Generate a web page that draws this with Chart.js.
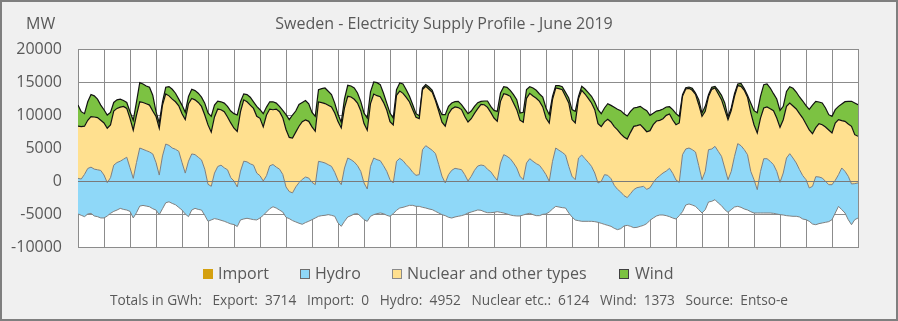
<!DOCTYPE html>
<html><head><meta charset="utf-8">
<script src="https://cdn.jsdelivr.net/npm/chart.js@4.4.1/dist/chart.umd.min.js"></script>
<style>
html,body{margin:0;padding:0;background:#f0f0f0;}
#wrap{position:relative;width:898px;height:321px;background:#f0f0f0;overflow:hidden;font-family:'Open Sans',sans-serif;color:#595959;}
#c{position:absolute;left:0;top:0;}
#frame{position:absolute;left:0;top:0;width:898px;height:321px;box-sizing:border-box;border:2px solid #7f7f7f;pointer-events:none;}
.t{position:absolute;white-space:pre;line-height:1;}
.box{position:absolute;width:10px;height:10px;box-sizing:border-box;}
</style>
</head><body>
<div id="wrap">
<canvas id="c" width="898" height="321"></canvas>
<div class="t" style="left:26px;top:15px;font-size:16px;">MW</div>
<div class="t" style="left:0;width:888px;text-align:center;top:14.5px;font-size:16px;">Sweden - Electricity Supply Profile - June 2019</div>
<div id="legend"></div>
<div id="footer" class="t" style="left:0;width:898px;text-align:center;top:292.8px;font-size:13.7px;"></div>
<div id="frame"></div>
</div>
<script>
// Category axis: June 2019, one sample every 3 hours (hour of month), last = 1 July 00:00
const sampleHours = [];
for (let i = 0; i <= 240; i++) sampleHours.push(i * 3);
const dayTicks = [0, 720, 24]; // min, max, step (one grid line per day)
const yTicks = [-10000, 20000, 5000];

// Series values in MW (export drawn as negative, the production stack starts from it)
const exportMW = [
-5000,-5200,-5400,-5000,-4900,-5300,-5400,-5600,
-5600,-5300,-4900,-4600,-4400,-4150,-4300,-4400,
-4600,-5600,-4800,-3800,-3700,-3800,-3900,-4200,
-4400,-5100,-4200,-3300,-3150,-3400,-3600,-4000,
-4400,-5000,-5400,-4400,-4150,-4300,-4400,-5200,
-6100,-5900,-5700,-5800,-5950,-6100,-6300,-6500,
-6600,-6900,-5900,-5750,-5650,-5750,-5850,-5900,
-5600,-5200,-4700,-4200,-3900,-4100,-4400,-4700,
-5500,-5700,-6000,-6200,-6400,-6560,-6300,-6100,
-5860,-5610,-5350,-5250,-5200,-5100,-5200,-5350,
-6360,-6870,-6110,-5450,-5250,-5000,-4950,-5350,
-5860,-6110,-5350,-5100,-4950,-4850,-4950,-5200,
-5350,-4950,-4440,-4090,-3990,-3840,-3690,-3690,
-3840,-3840,-3990,-4090,-4240,-4340,-4600,-4850,
-5100,-5250,-5500,-5610,-5450,-5350,-5250,-5100,
-4850,-4700,-4550,-4390,-4440,-4650,-4800,-4800,
-4750,-4650,-4750,-4850,-5000,-5150,-5250,-5300,
-5300,-5150,-5000,-4900,-5100,-5250,-5250,-5050,
-5000,-4700,-4240,-3840,-3940,-4040,-4090,-4850,
-5450,-5910,-6010,-6110,-6110,-6110,-6110,-6160,
-6260,-6410,-6570,-6720,-6870,-7170,-7370,-7220,
-6820,-6720,-6870,-7070,-7020,-6870,-6720,-6460,
-5960,-5610,-5300,-5150,-5150,-5250,-5400,-5610,
-5760,-5250,-4650,-3640,-3480,-3640,-3840,-4340,
-4850,-4340,-3180,-3080,-2830,-3330,-3740,-4340,
-4750,-4340,-3940,-3840,-3990,-4240,-4390,-4650,
-4850,-4850,-4850,-4850,-4850,-4850,-4900,-5000,
-5100,-5150,-5250,-5300,-5350,-5350,-5450,-5760,
-5860,-6110,-6520,-6620,-6460,-6360,-6260,-6160,
-5860,-4850,-3840,-4340,-4850,-5860,-6620,-5860,
-5610];

const importMW = new Array(241).fill(0); // no import during the month (total 0 GWh)

const hydroMW = [
5400,5500,6400,6900,7000,7100,7100,7200,
6500,5050,5400,7000,7200,7150,7600,8000,
6600,6000,7600,8800,8500,8400,8300,8300,
7200,6000,8000,8900,8550,8400,8400,8500,
7200,6200,8400,8500,8150,7900,7600,7000,
5600,5100,6900,8000,8350,8100,8000,7000,
6600,6000,7400,8750,8550,8350,8250,7100,
6400,5200,5500,6500,6400,6200,6200,5700,
4600,4100,4200,5300,6150,6810,6900,6550,
5660,5050,8330,8130,7930,7570,7420,6660,
6460,6310,8080,8930,8480,7880,7270,6810,
5560,4900,7570,8580,8180,7930,7270,6660,
5550,4650,7420,7520,7070,6310,5660,5000,
4700,4800,8740,9440,9240,8990,8740,7320,
5810,4950,6460,7230,7370,7170,6970,6060,
4850,5410,6170,6660,6860,6970,6570,6210,
5460,4750,7480,8840,8740,8530,7980,7270,
6010,5350,7730,8280,8080,7880,7620,6770,
5960,4650,7220,8840,8590,8380,8030,7070,
6160,6110,9490,10050,9490,8940,8330,7370,
5960,6360,7530,7580,7220,6510,6110,5550,
4600,4200,4950,5760,6010,5960,5910,5200,
4950,5360,5700,5960,6360,6760,7320,6770,
5910,5050,8640,8490,8480,8390,8230,6660,
5050,5800,7930,7930,8080,7820,7480,6310,
4950,5800,7680,9500,9340,8990,8380,6110,
5050,3540,6310,8230,8230,7830,7370,6460,
4900,6360,8730,9440,8830,8080,7170,6570,
6060,5050,5710,7280,7070,6810,6210,5600,
5300,4950,4800,6310,6310,6570,6170,5460,
5310];

const nuclearMW = [
7900,7950,7300,7300,7650,7900,7900,7600,
7900,8250,8000,8200,8200,8200,8000,7400,
7500,7300,7200,7000,7100,7100,7100,6500,
7000,7100,7700,7600,7500,7400,7200,6900,
7400,8100,8700,8400,8300,8300,8100,8200,
9000,8200,8500,8700,8400,8500,8000,8300,
8000,8400,9000,9300,9100,8900,8600,8600,
8700,8200,9200,8600,8300,8800,8700,8600,
8700,8200,8300,8300,8550,8750,8650,8590,
8400,8100,9000,9000,9000,9000,9000,9000,
8900,8600,9100,9350,9500,9500,9500,9200,
9000,8900,9500,9700,9700,9700,9600,9300,
8800,8800,10000,10200,10200,10200,10000,9500,
8800,8500,9100,9000,8900,8800,8000,8100,
8200,8600,9200,9300,9300,9300,9100,8800,
8940,8730,8630,8690,9190,9240,9390,8990,
8830,8940,9340,9240,9340,9450,9090,8840,
8500,8700,9800,9900,9900,9900,9700,9500,
8580,8840,9340,9090,9340,9500,8890,9600,
8600,8600,9000,9800,9800,9700,9600,9600,
9000,8300,8000,8500,8600,8900,9000,8800,
8890,8880,9290,9590,9390,9440,8840,8730,
8640,8780,8690,8380,8230,8440,8230,8080,
8380,8990,8840,9090,9040,8990,8740,9240,
9600,9090,8050,9040,8840,8740,8580,8840,
9100,9200,9100,8800,9000,9000,8700,8900,
8330,8580,8080,7680,7830,7980,8180,8080,
8330,8080,7830,7680,7880,8180,8480,8730,
8440,8790,7980,7420,8080,8080,8230,8290,
7830,8690,8330,7170,7580,7930,8730,7420,
7070];

const windMW = [
3200,2250,1900,2800,3350,3200,2800,2300,
2000,2000,1900,1300,1300,1200,900,900,
1000,1500,2000,2900,2800,2700,2700,2400,
700,800,500,1000,1400,1500,1300,1000,
1300,1100,1100,1400,1400,1400,1400,1800,
1800,2400,1800,1200,1200,1300,1600,1800,
2200,2500,1500,900,1100,1200,1000,1500,
1300,2000,1200,1100,1200,900,800,1100,
2250,2700,3500,3200,3300,2900,2950,2660,
2200,2260,1860,2120,2360,2130,1880,1490,
1100,850,1380,1670,1670,1710,1510,1410,
1600,1850,1780,1820,1970,1820,1380,1040,
1300,1040,860,1220,1420,1170,860,750,
540,440,240,250,340,290,280,490,
1140,1750,1150,900,800,950,740,1140,
1260,1160,1060,910,460,560,960,910,
1160,1510,1260,1060,1110,910,1260,1510,
1090,1500,1310,1010,1210,1210,1110,1510,
1520,1260,510,350,450,450,600,750,
1500,1750,350,600,760,850,1010,1160,
2110,1950,2100,2360,2510,2920,3120,3530,
3530,3490,3180,2780,2780,2780,2930,3190,
2320,1720,1510,1520,1470,1260,1110,1570,
1670,1010,250,200,200,300,200,760,
500,760,280,300,250,510,660,1010,
400,400,410,240,450,250,310,1460,
2120,3080,3290,3540,3490,3130,2580,2880,
2570,2020,2270,2470,2680,2570,2530,2580,
2770,3130,4340,3990,3280,3290,2880,2320,
2530,2020,2020,2530,2980,3430,3790,4800,
4790];

const legendLabels = ['Import', 'Hydro', 'Nuclear and other types', 'Wind'];
const totalsGWh = {Export: 3714, Import: 0, Hydro: 4952, 'Nuclear etc.': 6124, Wind: 1373};
const sourceName = 'Entso-e';

const colors = {
  import: '#d4a00f',
  hydro: '#8fd8f8',
  nuclear: '#ffe08f',
  wind: '#7cc242',
  grid: '#8c8c8c',
  text: '#595959'
};

// ---------- legend and footer (HTML text) ----------
const legendPos = [
  {box: 203, text: 218, fill: colors.import, border: colors.import},
  {box: 300, text: 315, fill: colors.hydro, border: '#6d6d6d'},
  {box: 392, text: 407, fill: colors.nuclear, border: '#8a8a8a'},
  {box: 619, text: 635, fill: colors.wind, border: '#404040'}
];
const lg = document.getElementById('legend');
legendLabels.forEach((lab, i) => {
  const p = legendPos[i];
  const b = document.createElement('div');
  b.className = 'box';
  b.style.cssText = `left:${p.box}px;top:268.5px;background:${p.fill};border:1px solid ${p.border};`;
  lg.appendChild(b);
  const t = document.createElement('div');
  t.className = 't';
  t.style.cssText = `left:${p.text}px;top:264.5px;font-size:16px;`;
  t.textContent = lab;
  lg.appendChild(t);
});
document.getElementById('footer').textContent =
  'Totals in GWh:   Export:  ' + totalsGWh.Export +
  '   Import:  ' + totalsGWh.Import +
  '   Hydro:  ' + totalsGWh.Hydro +
  '   Nuclear etc.:  ' + totalsGWh['Nuclear etc.'] +
  '   Wind:  ' + totalsGWh.Wind +
  '   Source:  ' + sourceName;

// ---------- chart ----------
const pts = arr => arr.map((v, i) => ({x: sampleHours[i], y: v}));

const plotBg = {
  id: 'plotBg',
  beforeDraw(chart) {
    const {ctx, chartArea: a} = chart;
    ctx.save();
    ctx.fillStyle = '#ffffff';
    ctx.fillRect(a.left, a.top, a.right - a.left, a.bottom - a.top);
    ctx.restore();
  }
};
const zeroLine = {
  id: 'zeroLine',
  afterDatasetsDraw(chart) {
    const {ctx, chartArea: a, scales} = chart;
    const y = Math.round(scales.y.getPixelForValue(0)) + 0.5;
    ctx.save();
    ctx.strokeStyle = '#7a7a7a';
    ctx.lineWidth = 1;
    ctx.beginPath();
    ctx.moveTo(a.left, y);
    ctx.lineTo(a.right, y);
    ctx.stroke();
    ctx.restore();
  }
};

Chart.defaults.font.family = "'Open Sans', sans-serif";

new Chart(document.getElementById('c'), {
  type: 'line',
  data: {
    datasets: [
      {label: 'Export', data: pts(exportMW), borderColor: '#808080', borderWidth: 1, fill: false},
      {label: 'Import', data: pts(importMW), borderWidth: 0, borderColor: colors.import, backgroundColor: colors.import, fill: false},
      {label: 'Hydro', data: pts(hydroMW), borderColor: '#7f7f7f', borderWidth: 1, backgroundColor: colors.hydro, fill: '-1'},
      {label: 'Nuclear and other types', data: pts(nuclearMW), borderColor: '#111111', borderWidth: 1.2, backgroundColor: colors.nuclear, fill: '-1'},
      {label: 'Wind', data: pts(windMW), borderColor: '#111111', borderWidth: 1.2, backgroundColor: colors.wind, fill: '-1'}
    ]
  },
  options: {
    responsive: false,
    animation: false,
    devicePixelRatio: 1,
    layout: {padding: {left: 0, right: 40, top: 49, bottom: 74}},
    elements: {point: {radius: 0, hoverRadius: 0}, line: {tension: 0}},
    plugins: {legend: {display: false}, title: {display: false}, tooltip: {enabled: false}},
    scales: {
      x: {
        type: 'linear', min: dayTicks[0], max: dayTicks[1],
        ticks: {display: false, stepSize: dayTicks[2], maxTicksLimit: 100, autoSkip: false},
        grid: {color: colors.grid, drawTicks: false, lineWidth: 1},
        border: {color: colors.grid},
        afterFit(s) { s.height = 0; }
      },
      y: {
        stacked: 'single',
        min: yTicks[0], max: yTicks[1],
        ticks: {stepSize: yTicks[2], padding: 16, color: colors.text, font: {size: 16}, callback: v => String(v)},
        grid: {color: colors.grid, drawTicks: false, lineWidth: 1},
        border: {color: colors.grid},
        afterFit(s) { s.width = 78; }
      }
    }
  },
  plugins: [plotBg, zeroLine]
});
</script>
</body></html>
